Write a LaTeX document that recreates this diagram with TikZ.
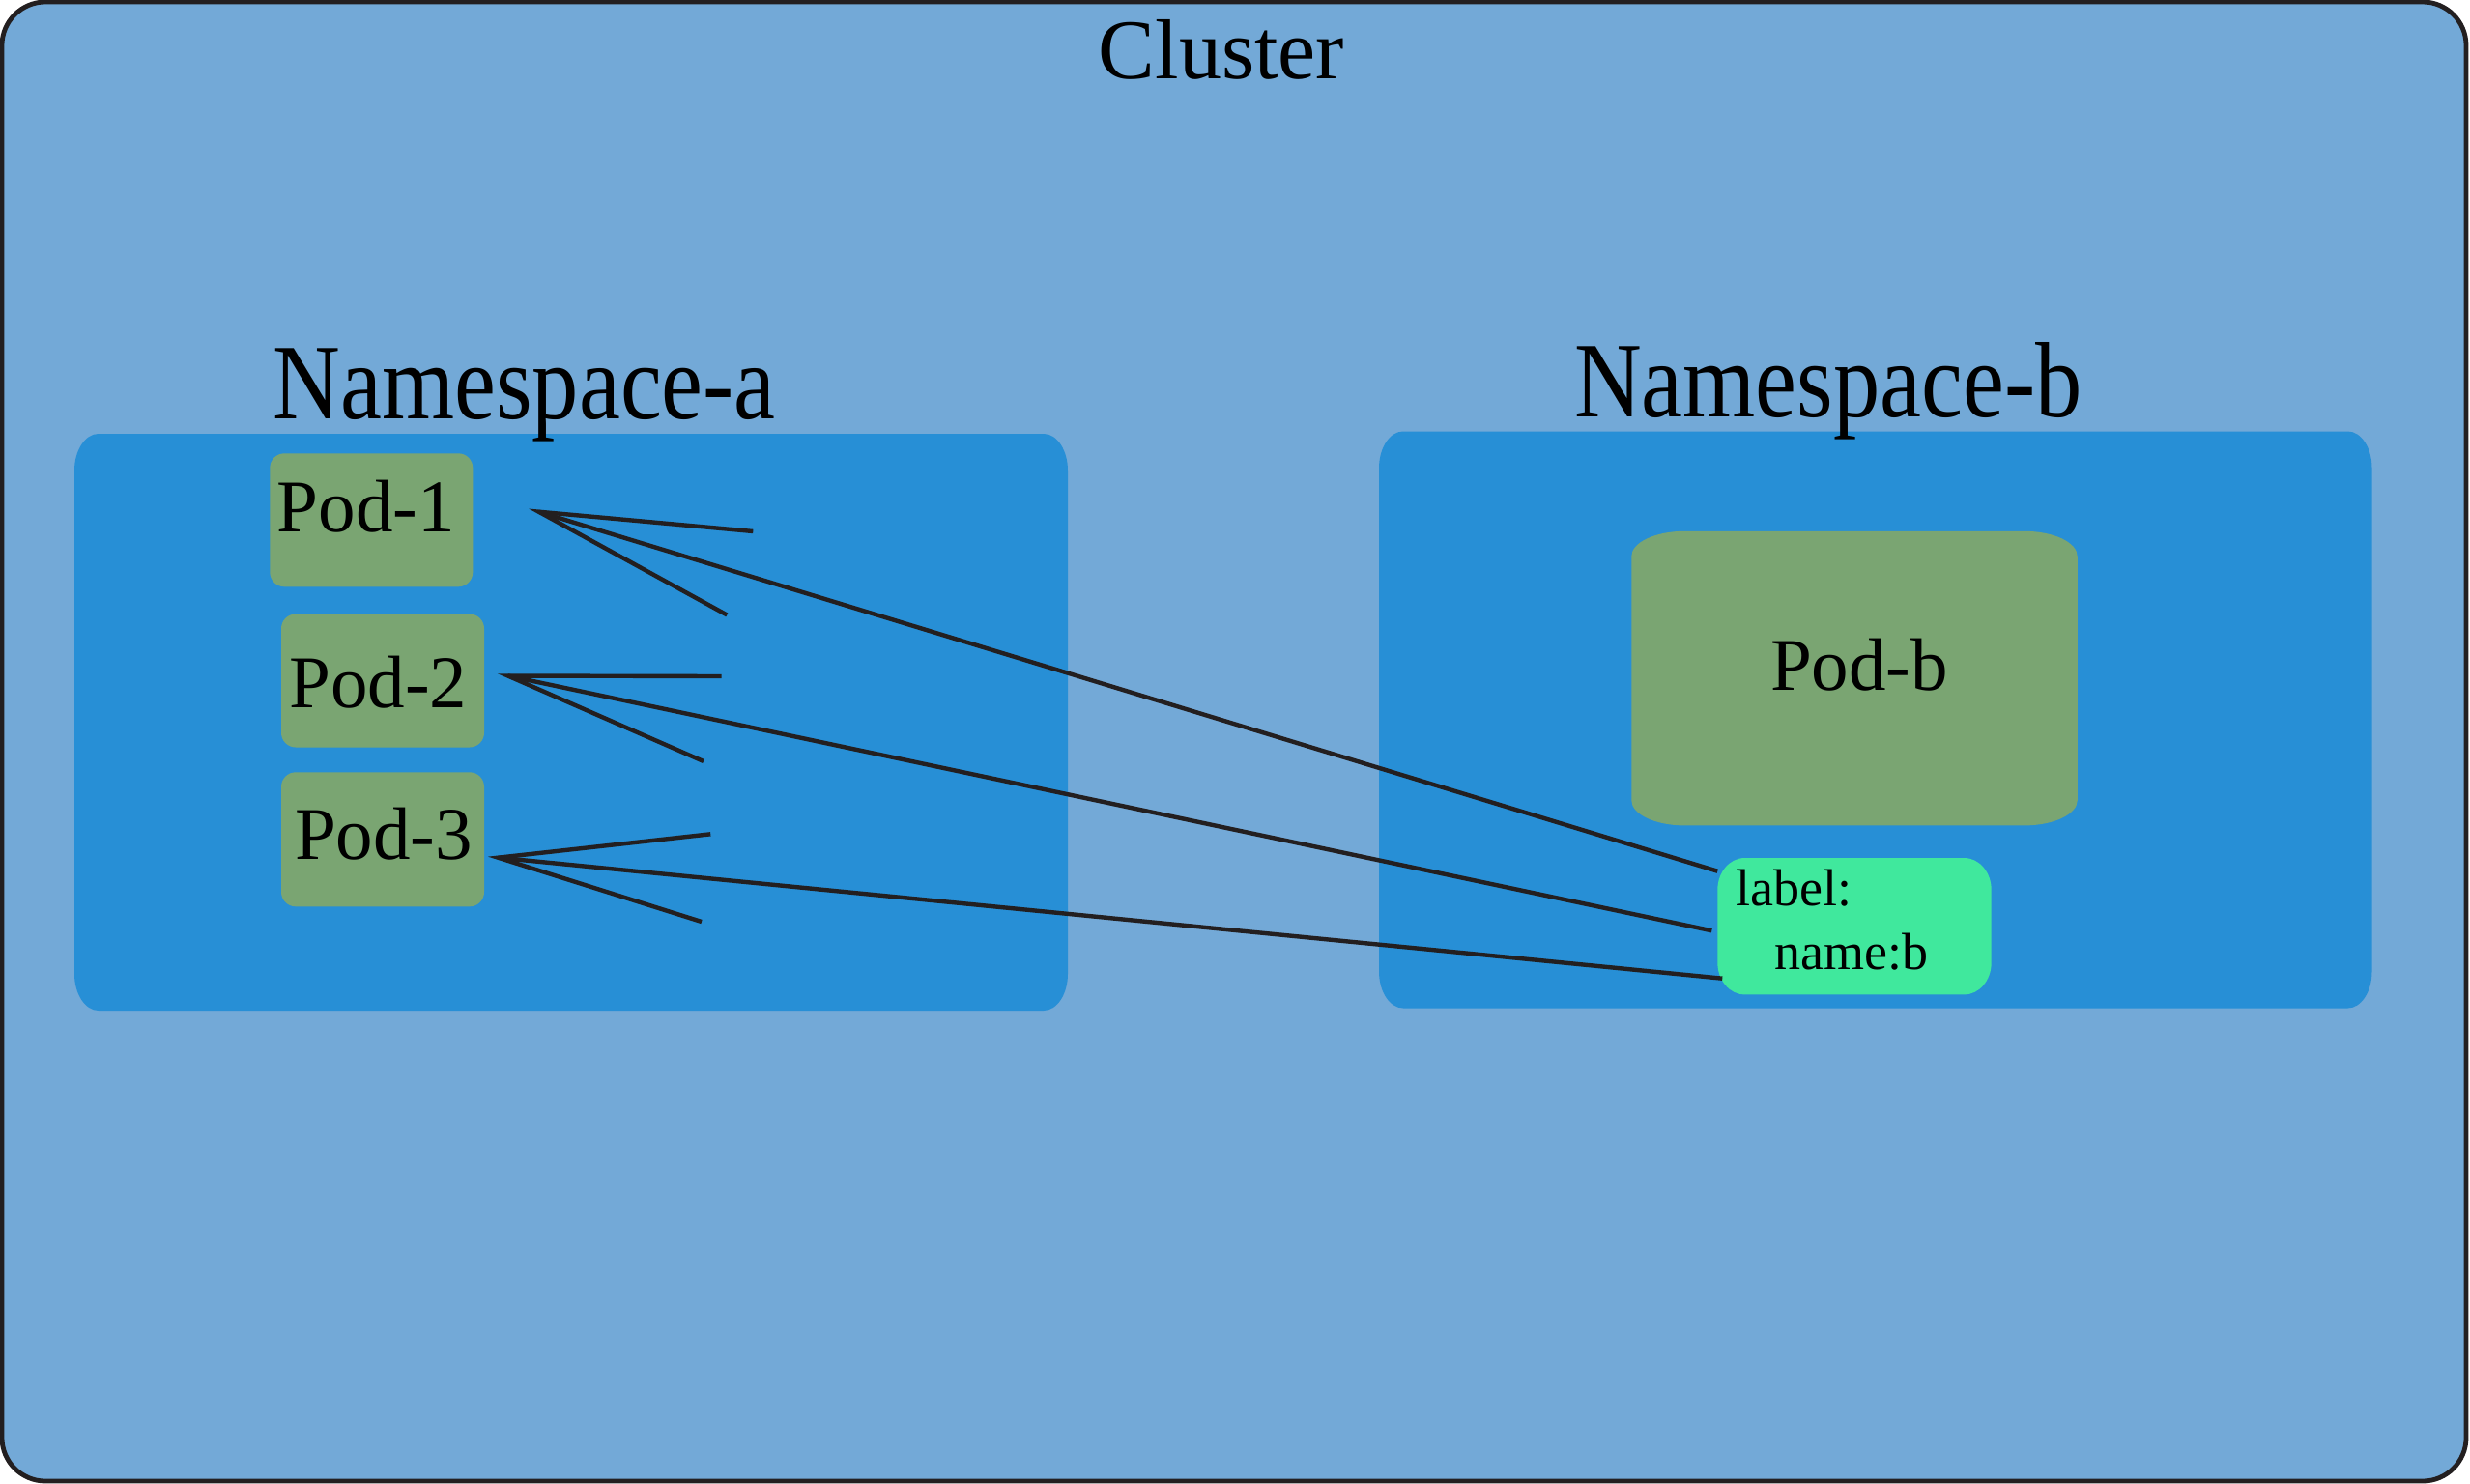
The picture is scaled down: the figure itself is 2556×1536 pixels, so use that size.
\documentclass[tikz,border=0pt]{standalone}
\usepackage{fontspec}
\setmainfont{Liberation Serif}
\usepackage{graphicx}
\usetikzlibrary{calc}
\definecolor{clfill}{HTML}{73A9D7}
\definecolor{nsfill}{HTML}{278FD6}
\definecolor{podfill}{HTML}{7AA572}
\definecolor{lblfill}{HTML}{40E89D}
\definecolor{inkc}{HTML}{231F20}
% elliptical rounded box drawn from a named node: name, rx, ry, path options
\newcommand\ebox[4]{%
  \path[#4] ($(#1.north west)+(#2,0)$) -- ($(#1.north east)+(-#2,0)$)
   .. controls ($(#1.north east)+({-0.448*#2},0)$) and ($(#1.north east)+(0,{0.448*#3})$) .. ($(#1.north east)+(0,#3)$)
   -- ($(#1.south east)+(0,-#3)$)
   .. controls ($(#1.south east)+(0,{-0.448*#3})$) and ($(#1.south east)+({-0.448*#2},0)$) .. ($(#1.south east)+(-#2,0)$)
   -- ($(#1.south west)+(#2,0)$)
   .. controls ($(#1.south west)+({0.448*#2},0)$) and ($(#1.south west)+(0,{-0.448*#3})$) .. ($(#1.south west)+(0,-#3)$)
   -- ($(#1.north west)+(0,#3)$)
   .. controls ($(#1.north west)+(0,{0.448*#3})$) and ($(#1.north west)+({0.448*#2},0)$) .. ($(#1.north west)+(#2,0)$)
   -- cycle;}
\tikzset{
  area/.style={rectangle, draw=none, fill=none, inner sep=0pt, outer sep=0pt},
  txt/.style={inner sep=0pt, outer sep=0pt, anchor=base, text=black},
  txtw/.style={inner sep=0pt, outer sep=0pt, anchor=base west, text=black},
  conn/.style={draw=inkc, line width=4.4pt, line join=miter, line cap=butt},
  titlefont/.style={font=\fontsize{111}{120}\selectfont},
  podfont/.style={font=\fontsize{77}{84}\selectfont},
  lblfont/.style={font=\fontsize{54}{60}\selectfont}
}
\begin{document}
\begin{tikzpicture}[x=1pt,y=-1pt]
\useasboundingbox (0,0) rectangle (2556,1536);
% cluster
\node[area, minimum width=2550pt, minimum height=1531pt] (cluster) at (1277,767.5) {};
\ebox{cluster}{45}{45}{fill=clfill, draw=inkc, line width=4.8pt}
\node[txt, font=\fontsize{88}{96}\selectfont] (tcluster) at (1264,81.7) {Cluster};
% namespaces
\node[area, minimum width=1028pt, minimum height=597pt] (nsa) at (591,747.5) {};
\ebox{nsa}{25}{38}{fill=nsfill}
\node[area, minimum width=1027.5pt, minimum height=597pt] (nsb) at (1940.75,745) {};
\ebox{nsb}{25}{38}{fill=nsfill}
\node[txt, titlefont] (tnsa) at (542.75,433.7) {\scalebox{0.87}[1]{Namespace-a}};
\node[txt, titlefont] (tnsb) at (1891.8,431) {\scalebox{0.87}[1]{Namespace-b}};
% pods
\node[area, minimum width=210pt, minimum height=138pt] (pod1) at (384.3,538.3) {};
\ebox{pod1}{15}{15}{fill=podfill}
\node[area, minimum width=210pt, minimum height=138pt] (pod2) at (396,704.5) {};
\ebox{pod2}{15}{15}{fill=podfill}
\node[area, minimum width=210pt, minimum height=139pt] (pod3) at (396,868.8) {};
\ebox{pod3}{15}{15}{fill=podfill}
\node[area, minimum width=461.5pt, minimum height=304.6pt] (podb) at (1919,702.1) {};
\ebox{podb}{55}{26}{fill=podfill}
\node[area, minimum width=283.4pt, minimum height=141.3pt] (lbl) at (1919,958.7) {};
\ebox{lbl}{28}{33}{fill=lblfill}
% pod texts
\node[txt, podfont] (tp1) at (378.9,550) {Pod-1};
\node[txt, podfont] (tp2) at (391.3,732.5) {Pod-2};
\node[txt, podfont] (tp3) at (397,889) {Pod-3};
\node[txt, podfont] (tpb) at (1924,714.5) {Pod-b};
\node[txtw, lblfont] (tl1) at (1796.7,937.3) {label:};
\node[txtw, lblfont] (tl2) at (1836.8,1003) {name:b};
% connector geometry
\coordinate (t1) at (557.5,529.7);
\coordinate (b1a) at (779.3,550);
\coordinate (b1b) at (752.3,636.5);
\coordinate (t2) at (525.5,699.5);
\coordinate (b2a) at (746.7,700);
\coordinate (b2b) at (728,788);
\coordinate (t3) at (515.5,887.7);
\coordinate (b3a) at (735.3,863.3);
\coordinate (b3b) at (726,954);
\coordinate (e1) at (1777.3,901.7);
\coordinate (e2) at (1771.3,963.3);
\coordinate (e3) at (1782.3,1012.7);
% connectors
\draw[conn] (e1) -- (t1);
\draw[conn] (b1a) -- (t1) -- (b1b);
\draw[conn] (e2) -- (t2);
\draw[conn] (b2a) -- (t2) -- (b2b);
\draw[conn] (e3) -- (t3);
\draw[conn] (b3a) -- (t3) -- (b3b);
\end{tikzpicture}
\end{document}
